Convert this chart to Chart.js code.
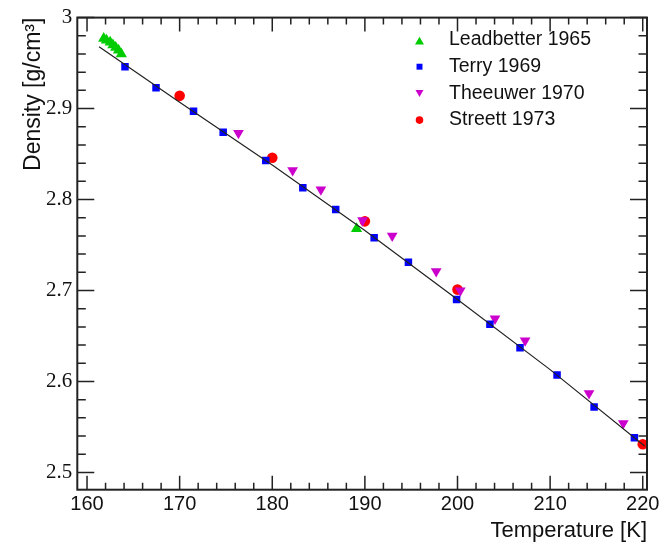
<!DOCTYPE html>
<html>
<head>
<meta charset="utf-8">
<script src="https://cdn.jsdelivr.net/npm/chart.js@4"></script>
<style>
  body { margin: 0; background: #fff; }
  #wrap { width: 666px; height: 543px; }
</style>
</head>
<body>
<div id="wrap"><canvas id="chart"></canvas></div>
<script>
// values (temperature in K, density in g/cm3)
const leadbetterT = [161.8, 162.1, 162.5, 162.8, 163.1, 163.4, 163.7, 189.1];
const leadbetterD = [2.977, 2.975, 2.973, 2.970, 2.967, 2.964, 2.960, 2.768];

const terryT = [164.1, 167.45, 171.5, 174.7, 179.3, 183.3, 186.85, 191.0, 194.7, 199.9, 203.5, 206.75, 210.75, 214.75, 219.1];
const terryD = [2.946, 2.923, 2.897, 2.874, 2.843, 2.813, 2.789, 2.758, 2.731, 2.690, 2.663, 2.637, 2.607, 2.572, 2.538];

const theeuwerT = [176.35, 182.2, 185.25, 189.75, 192.95, 197.7, 200.3, 204.05, 207.3, 214.2, 217.9];
const theeuwerD = [2.873, 2.832, 2.811, 2.777, 2.760, 2.721, 2.700, 2.669, 2.645, 2.587, 2.554];

const streettT = [170, 180, 190, 200, 220];
const streettD = [2.914, 2.846, 2.776, 2.701, 2.531];

// fitted curve
const fitT = [161.3, 170, 180, 190, 200, 210, 220.2];
const fitD = [2.968, 2.907, 2.838, 2.766, 2.690, 2.613, 2.529];

const xTicks = [160, 170, 180, 190, 200, 210, 220];
const yTicks = [2.5, 2.6, 2.7, 2.8, 2.9, 3.0];

const pts = (xs, ys) => xs.map((v, i) => ({ x: v, y: ys[i] }));

function marker(ctx, style, rot, r, x, y) {
  ctx.beginPath();
  if (style === 'circle') {
    ctx.arc(x, y, r, 0, Math.PI * 2);
  } else if (style === 'rect') {
    const s = r * Math.SQRT1_2;
    ctx.rect(x - s, y - s, 2 * s, 2 * s);
  } else {
    let a = rot * Math.PI / 180;
    for (let k = 0; k < 3; k++) {
      const px = x + Math.sin(a) * r, py = y - Math.cos(a) * r;
      k === 0 ? ctx.moveTo(px, py) : ctx.lineTo(px, py);
      a += 2 * Math.PI / 3;
    }
    ctx.closePath();
  }
  ctx.fill();
}

// ROOT style frame with inward ticks on all four sides
const frameTicks = {
  id: 'frameTicks',
  afterDatasetsDraw(chart) {
    const { ctx, chartArea: a, scales: { x, y } } = chart;
    ctx.save();
    ctx.strokeStyle = '#222';
    ctx.lineWidth = 1.5;
    ctx.beginPath();
    for (let i = 0; i <= 30; i++) {
      const px = x.getPixelForValue(160 + 2 * i);
      const len = i % 5 === 0 ? 14 : 7;
      ctx.moveTo(px, a.bottom); ctx.lineTo(px, a.bottom - len);
      ctx.moveTo(px, a.top); ctx.lineTo(px, a.top + len);
    }
    for (let i = 0; i <= 25; i++) {
      const py = y.getPixelForValue(2.5 + 0.02 * i);
      const len = i % 5 === 0 ? 17 : 8.5;
      ctx.moveTo(a.left, py); ctx.lineTo(a.left + len, py);
      ctx.moveTo(a.right, py); ctx.lineTo(a.right - len, py);
    }
    ctx.stroke();
    ctx.lineWidth = 2;
    ctx.strokeRect(a.left, a.top, a.right - a.left, a.bottom - a.top);
    ctx.restore();
  }
};

const boxLegend = {
  id: 'boxLegend',
  afterDraw(chart) {
    const ctx = chart.ctx;
    ctx.save();
    ctx.font = '19.5px "Liberation Sans", Arial, sans-serif';
    ctx.textBaseline = 'middle';
    ctx.fillStyle = '#111';
    const sizes = [5.2, 4.2, 4.6, 3.8];
    chart.data.datasets.filter(d => d.legend).forEach((d, i) => {
      const yy = 40 + i * 26.7;
      ctx.fillStyle = d.pointBackgroundColor;
      marker(ctx, d.pointStyle, d.rotation || 0, sizes[i], 419.5, yy + (d.pointStyle === 'triangle' ? (d.rotation ? -1 : 2) : 0));
      ctx.fillStyle = '#111';
      ctx.fillText(d.label, 449, yy);
    });
    ctx.restore();
  }
};

new Chart(document.getElementById('chart'), {
  type: 'scatter',
  data: {
    datasets: [
      {
        label: 'fit', data: pts(fitT, fitD), showLine: true, pointRadius: 0,
        borderColor: '#222', borderWidth: 1.2, order: 0
      },
      {
        label: 'Leadbetter 1965', legend: true, data: pts(leadbetterT, leadbetterD),
        pointStyle: 'triangle', rotation: 0, pointRadius: 6.5,
        pointBackgroundColor: '#00cc00', pointBorderWidth: 0, borderColor: '#00cc00', order: 1
      },
      {
        label: 'Terry 1969', legend: true, data: pts(terryT, terryD),
        pointStyle: 'rect', pointRadius: 5.3,
        pointBackgroundColor: '#0000ff', pointBorderWidth: 0, borderColor: '#0000ff', order: 1
      },
      {
        label: 'Theeuwer 1970', legend: true, data: pts(theeuwerT, theeuwerD),
        pointStyle: 'triangle', rotation: 180, pointRadius: 6.2,
        pointBackgroundColor: '#cc00cc', pointBorderWidth: 0, borderColor: '#cc00cc', order: 1
      },
      {
        label: 'Streett 1973', legend: true, data: pts(streettT, streettD),
        pointStyle: 'circle', pointRadius: 5.3,
        pointBackgroundColor: '#ff0000', pointBorderWidth: 0, borderColor: '#ff0000', order: 1
      }
    ]
  },
  options: {
    responsive: true,
    maintainAspectRatio: false,
    animation: false,
    events: [],
    layout: { padding: { left: 0, top: 13.3, right: 19, bottom: 0 } },
    plugins: { legend: { display: false }, tooltip: { enabled: false } },
    scales: {
      x: {
        type: 'linear', min: 158.95, max: 220.46,
        afterBuildTicks: s => { s.ticks = xTicks.map(v => ({ value: v })); },
        afterFit: s => { s.height = 53.3; },
        grid: { display: false, drawTicks: false },
        border: { display: false },
        ticks: {
          padding: 3, color: '#111', maxRotation: 0,
          font: { family: '"Liberation Sans", Arial, sans-serif', size: 20 }
        },
        title: {
          display: true, text: 'Temperature [K]', align: 'end', color: '#111',
          font: { family: '"Liberation Sans", Arial, sans-serif', size: 22, lineHeight: 1 },
          padding: { top: 0, bottom: 1 }
        }
      },
      y: {
        type: 'linear', min: 2.481, max: 3.0,
        afterBuildTicks: s => { s.ticks = yTicks.map(v => ({ value: v })); },
        afterFit: s => { s.width = 77.3; },
        grid: { display: false, drawTicks: false },
        border: { display: false },
        ticks: {
          padding: 5, color: '#111',
          callback: v => String(Math.round(v * 10) / 10),
          font: { family: '"Liberation Serif", "Times New Roman", serif', size: 21 }
        },
        title: {
          display: true, text: 'Density [g/cm³]', align: 'end', color: '#111',
          font: { family: '"Liberation Sans", Arial, sans-serif', size: 23, lineHeight: 1 },
          padding: { top: 22.5, bottom: 0 }
        }
      }
    }
  },
  plugins: [frameTicks, boxLegend]
});
</script>
</body>
</html>
